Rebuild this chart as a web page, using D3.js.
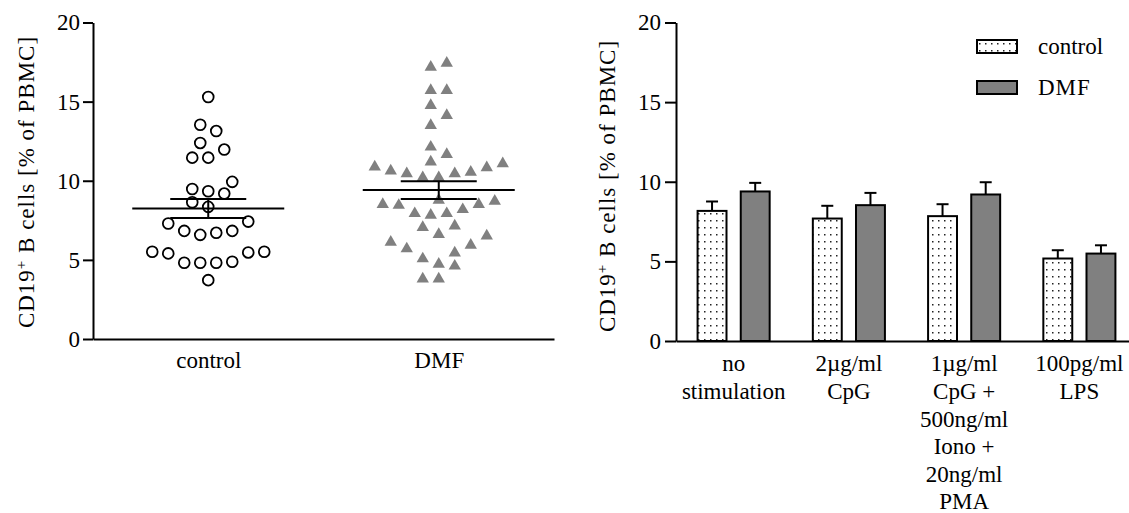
<!DOCTYPE html>
<html>
<head>
<meta charset="utf-8">
<script src="https://cdn.jsdelivr.net/npm/d3@7"></script>
<style>
  body { margin: 0; background: #fff; }
  text { font-family: 'Liberation Serif', 'Times New Roman', serif; fill: #000; }
</style>
</head>
<body>
<div id="chart"></div>
<script>
// ---- data ----
const groups = ["control", "DMF"]
const yTicks = [0, 5, 10, 15, 20]

// left panel: individual donors, % CD19+ of PBMC
const controlPct = [15.29, 13.14, 13.54, 12.39, 11.46, 11.46, 11.97, 9.93, 9.34, 9.48, 9.19, 8.64, 8.35,
    7.30, 7.42, 6.83, 6.58, 6.71, 6.83, 5.51, 5.47, 4.88, 4.82, 4.82, 4.82, 5.41, 5.51, 3.72]
const dmfPct = [17.43, 17.18, 15.71, 15.71, 14.76, 14.13, 13.50, 12.13, 11.67, 11.19,
    10.87, 10.62, 10.45, 10.20, 10.20, 10.45, 10.54, 10.83, 11.08,
    8.71, 8.50, 7.93, 8.18, 7.82, 8.45, 8.50, 8.77, 7.93,
    7.15, 7.05, 6.61, 5.93, 6.12, 6.52, 5.44, 5.70, 5.07, 4.61, 4.73, 3.80, 3.80]

// right panel: stimulation conditions, mean + SEM
const stimLabels = ["no\nstimulation", "2µg/ml\nCpG", "1µg/ml\nCpG +\n500ng/ml\nIono +\n20ng/ml\nPMA", "100pg/ml\nLPS"]
const ctrlMean = [8.17, 7.69, 7.84, 5.18]
const ctrlSem = [0.59, 0.80, 0.75, 0.52]
const dmfMean = [9.39, 8.53, 9.20, 5.49]
const dmfSem = [0.54, 0.77, 0.77, 0.52]

const yTitle = ["CD19", "+", " B cells [% of PBMC]"]

// ---- setup ----
const W = 1129, H = 513
const FS = 23
const svg = d3.select("#chart").append("svg")
    .attr("width", W)
    .attr("height", H)

const pat = svg.append("defs").append("pattern")
    .attr("id", "dots")
    .attr("patternUnits", "userSpaceOnUse")
    .attr("width", 6)
    .attr("height", 7)
pat.append("rect").attr("width", 6).attr("height", 7).attr("fill", "#fff")
pat.append("rect").attr("x", 2).attr("y", 3).attr("width", 1.5).attr("height", 1.5).attr("fill", "#222")

function styleAxis(g) {
    g.select(".domain").attr("stroke", "#000").attr("stroke-width", 2)
    g.selectAll(".tick line").attr("stroke", "#000").attr("stroke-width", 2)
    g.selectAll(".tick text").attr("font-size", FS).attr("font-family", null)
}

function addTitle(x, y) {
    const t = svg.append("text")
        .attr("transform", "translate(" + x + "," + y + ") rotate(-90)")
        .attr("text-anchor", "middle")
        .attr("font-size", FS)
        .attr("letter-spacing", 1)
    t.append("tspan").text(yTitle[0])
    t.append("tspan").attr("baseline-shift", "super").attr("font-size", 15).text(yTitle[1])
    t.append("tspan").text(yTitle[2])
}

// simple row-based swarm: values close together share a row and are spread
// centre-out; a point that hits an already placed one is pushed outward
function swarm(values, y, slot, diam, rowTol) {
    const sorted = values.slice().sort(d3.ascending)
    const rows = []
    sorted.forEach(v => {
        const r = rows[rows.length - 1]
        if (r && v - r[0] <= rowTol) r.push(v)
        else rows.push([v])
    })
    const placed = []
    rows.forEach(r => {
        const n = r.length
        const offs = d3.range(n).map(i => i - (n - 1) / 2)
            .sort((a, b) => Math.abs(a) - Math.abs(b) || a - b)
        r.forEach((v, i) => {
            const py = y(v)
            const hits = k => placed.some(p => Math.hypot((p.k - k) * slot, p.y - py) < diam)
            let k = offs[i]
            if (k === 0) {
                let s = 0
                while (hits(s) && hits(-s)) s += 0.5
                k = hits(s) ? -s : s
            } else {
                const dir = k < 0 ? -1 : 1
                while (hits(k)) k += dir * 0.5
            }
            placed.push({ v: v, k: k, y: py })
        })
    })
    return placed
}

// ---- left panel: scatter ----
const xL = d3.scalePoint().domain(groups).range([93, 554]).padding(0.5)
const yL = d3.scaleLinear().domain([0, 20]).range([339, 22.5])
const SLOT = 16

svg.append("g")
    .attr("transform", "translate(93,0)")
    .call(d3.axisLeft(yL).tickValues(yTicks).tickSize(10).tickSizeOuter(0).tickPadding(3))
    .call(styleAxis)

svg.append("g")
    .attr("transform", "translate(0,339)")
    .call(d3.axisBottom(xL).tickSize(0).tickSizeOuter(0).tickPadding(13))
    .call(styleAxis)

addTitle(34, 182)

const ctrlPts = swarm(controlPct, yL, SLOT, 13, 0.9)
svg.append("g").selectAll("circle")
    .data(ctrlPts)
    .join("circle")
    .attr("cx", d => xL("control") + d.k * SLOT)
    .attr("cy", d => d.y)
    .attr("r", 5.4)
    .attr("fill", "#fff")
    .attr("stroke", "#000")
    .attr("stroke-width", 1.8)

const dmfPts = swarm(dmfPct, yL, SLOT, 13, 0.9)
svg.append("g").selectAll("path")
    .data(dmfPts)
    .join("path")
    .attr("transform", d => "translate(" + (xL("DMF") + d.k * SLOT) + "," + d.y + ")")
    .attr("d", d3.symbol(d3.symbolTriangle, 66))
    .attr("fill", "#808080")

// mean +/- SEM
const summary = [
    { g: "control", vals: controlPct },
    { g: "DMF", vals: dmfPct }
].map(d => {
    const m = d3.mean(d.vals)
    const sem = d3.deviation(d.vals) / Math.sqrt(d.vals.length)
    return { g: d.g, m: m, lo: m - sem, hi: m + sem }
})

const sg = svg.append("g").attr("stroke", "#000").attr("stroke-width", 2)
summary.forEach(d => {
    const cx = xL(d.g)
    sg.append("line").attr("x1", cx - 76).attr("x2", cx + 76).attr("y1", yL(d.m)).attr("y2", yL(d.m))
    sg.append("line").attr("x1", cx - 38).attr("x2", cx + 38).attr("y1", yL(d.hi)).attr("y2", yL(d.hi))
    sg.append("line").attr("x1", cx - 38).attr("x2", cx + 38).attr("y1", yL(d.lo)).attr("y2", yL(d.lo))
    sg.append("line").attr("x1", cx).attr("x2", cx).attr("y1", yL(d.lo)).attr("y2", yL(d.hi))
})

// ---- right panel: grouped bars ----
const xR = d3.scaleBand().domain(stimLabels).range([676, 1137])
const xSub = d3.scaleBand().domain(groups).range([0, xR.bandwidth()]).paddingInner(0.33).paddingOuter(0.5)
const yR = d3.scaleLinear().domain([0, 20]).range([341, 22.5])

const barData = stimLabels.flatMap((s, i) => [
    { s: s, g: "control", mean: ctrlMean[i], sem: ctrlSem[i] },
    { s: s, g: "DMF", mean: dmfMean[i], sem: dmfSem[i] }
])

const eg = svg.append("g").attr("stroke", "#000").attr("stroke-width", 2)
barData.forEach(d => {
    const cx = xR(d.s) + xSub(d.g) + xSub.bandwidth() / 2
    eg.append("line").attr("x1", cx).attr("x2", cx).attr("y1", yR(d.mean)).attr("y2", yR(d.mean + d.sem))
    eg.append("line").attr("x1", cx - 6).attr("x2", cx + 6).attr("y1", yR(d.mean + d.sem)).attr("y2", yR(d.mean + d.sem))
})

svg.append("g").selectAll("rect")
    .data(barData)
    .join("rect")
    .attr("x", d => xR(d.s) + xSub(d.g))
    .attr("y", d => yR(d.mean))
    .attr("width", xSub.bandwidth())
    .attr("height", d => yR(0) - yR(d.mean))
    .attr("fill", d => d.g === "control" ? "url(#dots)" : "#808080")
    .attr("stroke", "#000")
    .attr("stroke-width", 2)

svg.append("g")
    .attr("transform", "translate(676,0)")
    .call(d3.axisLeft(yR).tickValues(yTicks).tickSize(11).tickSizeOuter(0).tickPadding(4))
    .call(styleAxis)

const xAxisR = svg.append("g")
    .attr("transform", "translate(0,341)")
    .call(d3.axisBottom(xR).tickSize(0).tickSizeOuter(0).tickPadding(14))
    .call(styleAxis)

xAxisR.selectAll(".tick text").each(function(d) {
    const t = d3.select(this).text(null)
    d.split("\n").forEach((line, i) => {
        t.append("tspan").attr("x", 0).attr("dy", i === 0 ? "0.71em" : "1.2em").text(line)
    })
})

addTitle(615, 186)

// legend
const leg = svg.append("g").attr("transform", "translate(977,40)")
groups.forEach((g, i) => {
    leg.append("rect")
        .attr("x", 0).attr("y", i * 41)
        .attr("width", 40).attr("height", 13)
        .attr("fill", g === "control" ? "url(#dots)" : "#808080")
        .attr("stroke", "#000").attr("stroke-width", 2)
    leg.append("text")
        .attr("x", 61).attr("y", i * 41 + 14)
        .attr("font-size", FS)
        .attr("letter-spacing", g === "DMF" ? 1 : 0)
        .text(g)
})
</script>
</body>
</html>
